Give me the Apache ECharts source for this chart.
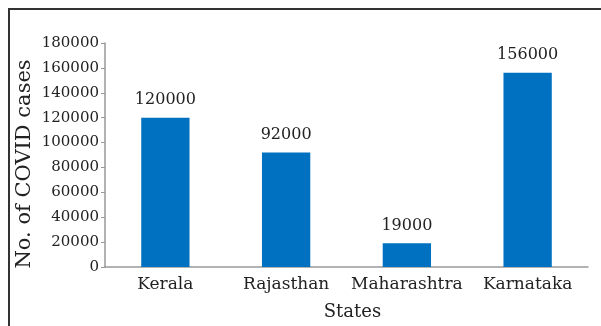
<!DOCTYPE html>
<html><head><meta charset="utf-8">
<script src="https://cdn.jsdelivr.net/npm/echarts@6/dist/echarts.min.js"></script>
<style>
html,body{margin:0;padding:0;background:#fff;overflow:hidden;width:601px;height:326px;}
#c{position:absolute;left:0;top:0;width:601px;height:326px;}
</style></head>
<body>
<div id="c"></div>
<script>
const categories = ['Kerala', 'Rajasthan', 'Maharashtra', 'Karnataka'];
const cases = [120000, 92000, 19000, 156000];
const yMax = 180000;
const yInterval = 20000;

const font = 'DejaVu Serif';
const chart = echarts.init(document.getElementById('c'));
chart.setOption({
  animation: false,
  graphic: [
    {type: 'polyline', silent: true, shape: {points: [[9, 330], [9, 9], [605, 9]]}, style: {stroke: '#333', lineWidth: 2, fill: null}}
  ],
  grid: {left: 105, right: 13, top: 43, bottom: 54},
  xAxis: {
    type: 'category',
    data: categories,
    name: 'States',
    nameLocation: 'middle',
    nameGap: 36,
    nameTextStyle: {fontFamily: font, fontSize: 18, color: '#222', padding: [0, 0, 0, 12]},
    axisLine: {lineStyle: {color: '#999', width: 1.5}},
    axisTick: {show: false},
    axisLabel: {interval: 0, fontFamily: font, fontSize: 17, color: '#222', margin: 9}
  },
  yAxis: {
    type: 'value',
    min: 0, max: yMax, interval: yInterval,
    name: 'No. of COVID cases',
    nameLocation: 'middle',
    nameMoveOverlap: false,
    nameGap: 70,
    nameTextStyle: {fontFamily: font, fontSize: 21, color: '#222', padding: [0, 18, 0, 0]},
    axisLine: {show: true, lineStyle: {color: '#999', width: 1.5}},
    axisTick: {show: true, length: 4, lineStyle: {color: '#999'}},
    splitLine: {show: false},
    axisLabel: {fontFamily: font, fontSize: 15, color: '#222', margin: 6, formatter: v => String(v)}
  },
  series: [{
    type: 'bar',
    data: cases,
    barWidth: '40%',
    itemStyle: {color: '#0070C0'},
    label: {show: true, position: 'top', distance: 10, fontFamily: font, fontSize: 16, color: '#222'}
  }]
});
</script>
</body></html>
